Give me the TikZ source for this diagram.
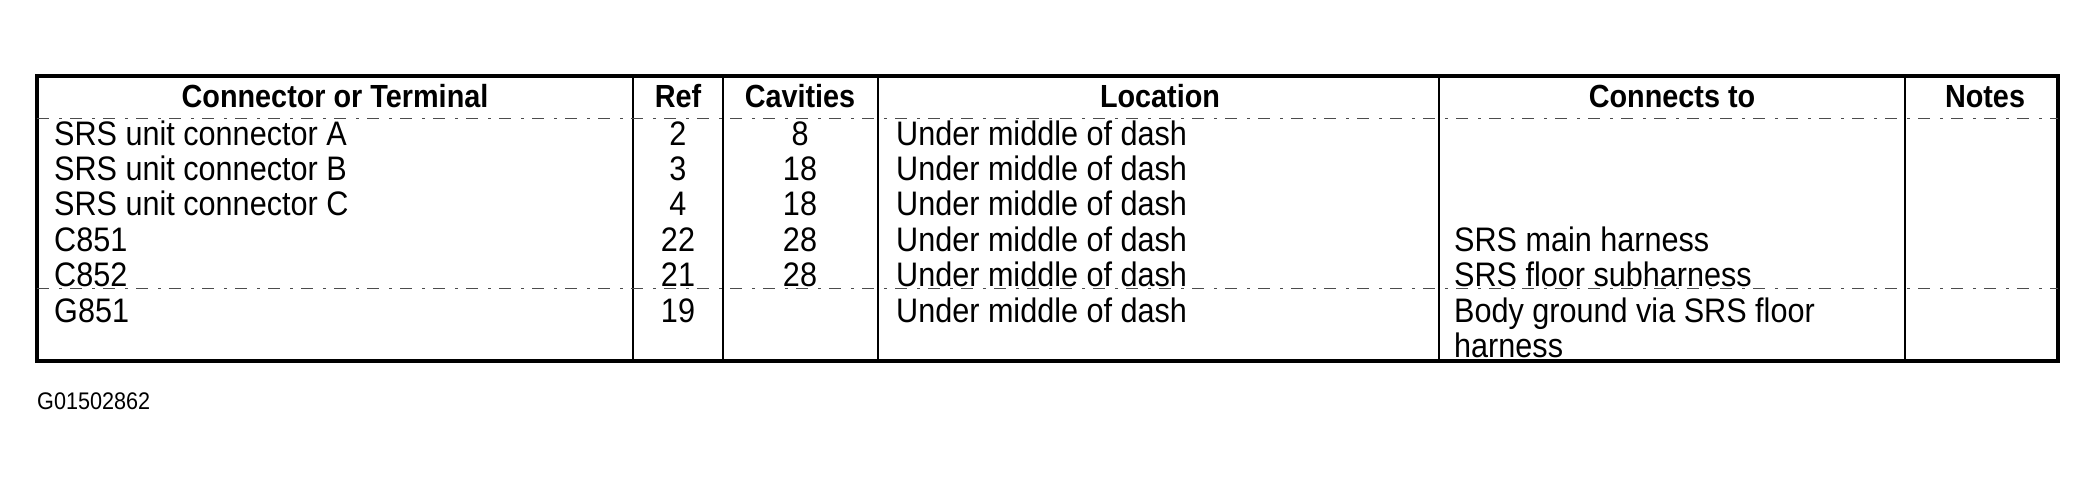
\documentclass[tikz,border=0pt]{standalone}
\usepackage{fontspec}
\setmainfont{Liberation Sans}[FakeStretch=0.9]
\begin{document}
\begin{tikzpicture}[x=1pt,y=-1pt,
  cell/.style={font=\fontsize{34}{38}\selectfont,inner sep=0pt,anchor=base west},
  ctr/.style={font=\fontsize{34}{38}\selectfont,inner sep=0pt,anchor=base},
  hd/.style={font=\fontsize{32}{36}\selectfont\bfseries,inner sep=0pt,anchor=base},
  thin/.style={line width=1.3pt},
  dsh/.style={line width=1pt,black!70,dash pattern=on 12pt off 10pt on 3pt off 8pt}]
\useasboundingbox (0,0) rectangle (2099,482);
\draw[line width=3.5pt] (37,76) rectangle (2058,361);
\foreach \x in {633,723,878,1439,1905} \draw[thin] (\x,76) -- (\x,361);
\draw[dsh] (37,118) -- (2058,118);
\draw[dsh] (37,288) -- (2058,288);
% header
\node[hd] (h1) at (335,107) {Connector or Terminal};
\node[hd] (h2) at (678,107) {Ref};
\node[hd] (h3) at (800,107) {Cavities};
\node[hd] (h4) at (1160,107) {Location};
\node[hd] (h5) at (1672,107) {Connects to};
\node[hd] (h6) at (1985,107) {Notes};
% rows
\foreach \y/\a/\b/\c/\e [count=\i] in {145/SRS unit connector A/2/8/,180/SRS unit connector B/3/18/,215/SRS unit connector C/4/18/,251/C851/22/28/SRS main harness,286/C852/21/28/SRS floor subharness,322/G851/19//Body ground via SRS floor}{
  \node[cell] (a\i) at (54,\y) {\a};
  \node[ctr] (b\i) at (678,\y) {\b};
  \node[ctr] (c\i) at (800,\y) {\c};
  \node[cell] (d\i) at (896,\y) {Under middle of dash};
  \node[cell] (e\i) at (1454,\y) {\e};
}
\node[cell] (e7) at (1454,357) {harness};
\node[font=\fontsize{24}{28}\selectfont,inner sep=0pt,anchor=base west] (fig) at (37,409) {G01502862};
\end{tikzpicture}
\end{document}
